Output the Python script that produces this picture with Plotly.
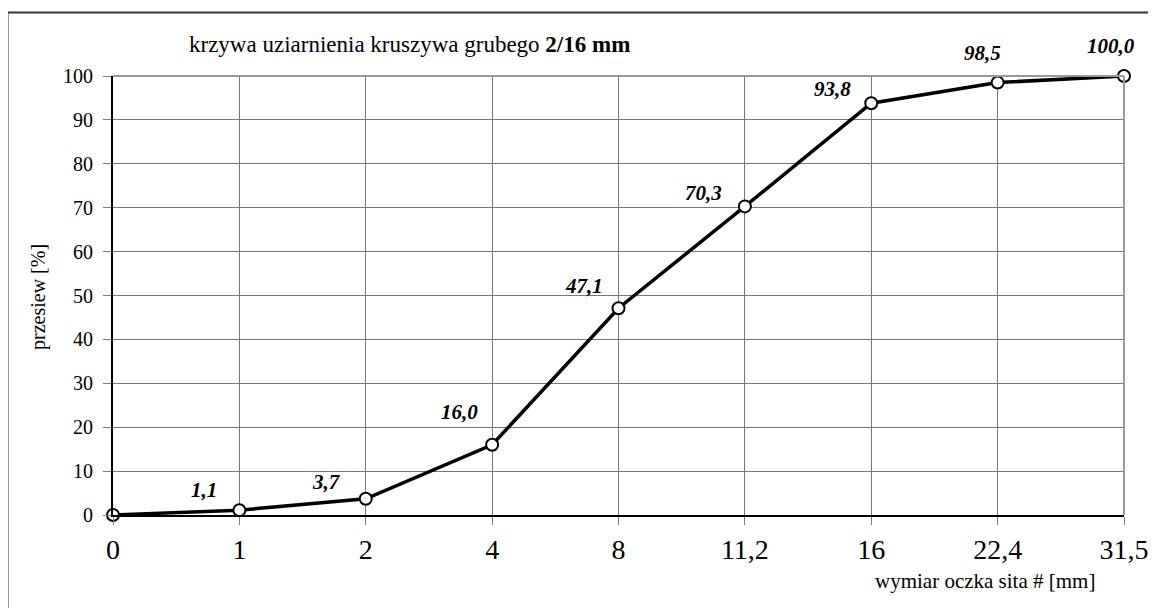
import plotly.graph_objects as go

# ---- data ----
sieve_sizes = ["0", "1", "2", "4", "8", "11,2", "16", "22,4", "31,5"]
passing = [0.0, 1.1, 3.7, 16.0, 47.1, 70.3, 93.8, 98.5, 100.0]
value_labels = ["", "1,1", "3,7", "16,0", "47,1", "70,3", "93,8", "98,5", "100,0"]
y_ticks = [0, 10, 20, 30, 40, 50, 60, 70, 80, 90, 100]

# label offsets in pixels (style/position only)
label_dx = [0, -35, -39, -33, -35, -41, -39, -15, -13]
label_dy = [0, 20, 17, 33, 22, 13, 14, 30, 30]

FONT = "Liberation Serif, Times New Roman, serif"

# page has an 8px body margin; plot area in page coords: x 113..1124, y 76..515
W, H = 1148, 600
L, T = 105, 68
PW, PH = 1011, 439
R = W - L - PW
B = H - T - PH


def px(x_page):
    return (x_page - 8 - L) / PW


def py(y_page):
    return (T + PH - (y_page - 8)) / PH


fig = go.Figure()
fig.add_trace(go.Scatter(
    x=sieve_sizes, y=passing, mode="lines+markers",
    line=dict(color="black", width=3.5),
    marker=dict(size=12, color="white", line=dict(color="black", width=2)),
    cliponaxis=False, showlegend=False,
))

for i, (val, lab) in enumerate(zip(passing, value_labels)):
    if not lab:
        continue
    fig.add_annotation(
        x=i, y=val, text="<b><i>" + lab + "</i></b>", showarrow=False,
        xshift=label_dx[i], yshift=label_dy[i],
        font=dict(family=FONT, size=21, color="black"),
    )

# title
fig.add_annotation(
    xref="paper", yref="paper", x=px(187), y=py(44),
    xanchor="left", yanchor="middle", showarrow=False,
    text="krzywa uziarnienia kruszywa grubego <b>2/16 mm</b>",
    font=dict(family=FONT, size=23, color="black"),
)
# y axis title
fig.add_annotation(
    xref="paper", yref="paper", x=px(38), y=py(297),
    xanchor="center", yanchor="middle", showarrow=False, textangle=-90,
    text="przesiew [%]", font=dict(family=FONT, size=20, color="black"),
)
# x axis title
fig.add_annotation(
    xref="paper", yref="paper", x=px(985), y=py(581),
    xanchor="center", yanchor="middle", showarrow=False,
    text="wymiar oczka sita # [mm]", font=dict(family=FONT, size=21, color="black"),
)

# outer frame (only top/left visible in the reference)
fig.add_shape(type="rect", xref="paper", yref="paper",
              x0=px(7.5), x1=1.3, y0=-0.5, y1=py(12.5),
              line=dict(color="#333333", width=2), layer="below")
# top and right lighter border lines of plot area
fig.add_shape(type="line", xref="paper", yref="paper", x0=0, x1=1, y0=1, y1=1,
              line=dict(color="#999999", width=2))
fig.add_shape(type="line", xref="paper", yref="paper", x0=1, x1=1, y0=0, y1=1,
              line=dict(color="#999999", width=2))

fig.update_xaxes(
    type="category", range=[0, len(sieve_sizes) - 1],
    showgrid=True, gridcolor="#777777", gridwidth=1,
    showline=True, linecolor="black", linewidth=2,
    ticks="outside", ticklen=8, tickcolor="#808080", tickwidth=1,
    tickfont=dict(family=FONT, size=28, color="black"),
    zeroline=False, automargin=False,
)
fig.update_yaxes(
    range=[0, 100], tickvals=y_ticks,
    showgrid=True, gridcolor="#777777", gridwidth=1,
    showline=True, linecolor="black", linewidth=2,
    ticks="outside", ticklen=8, tickcolor="#808080", tickwidth=1,
    ticklabelstandoff=6,
    tickfont=dict(family=FONT, size=20, color="black"),
    zeroline=False, automargin=False,
)

fig.update_layout(
    width=W, height=H,
    margin=dict(l=L, r=R, t=T, b=B),
    paper_bgcolor="white", plot_bgcolor="white",
    font=dict(family=FONT, color="black"),
)

fig.write_html("out.html")
